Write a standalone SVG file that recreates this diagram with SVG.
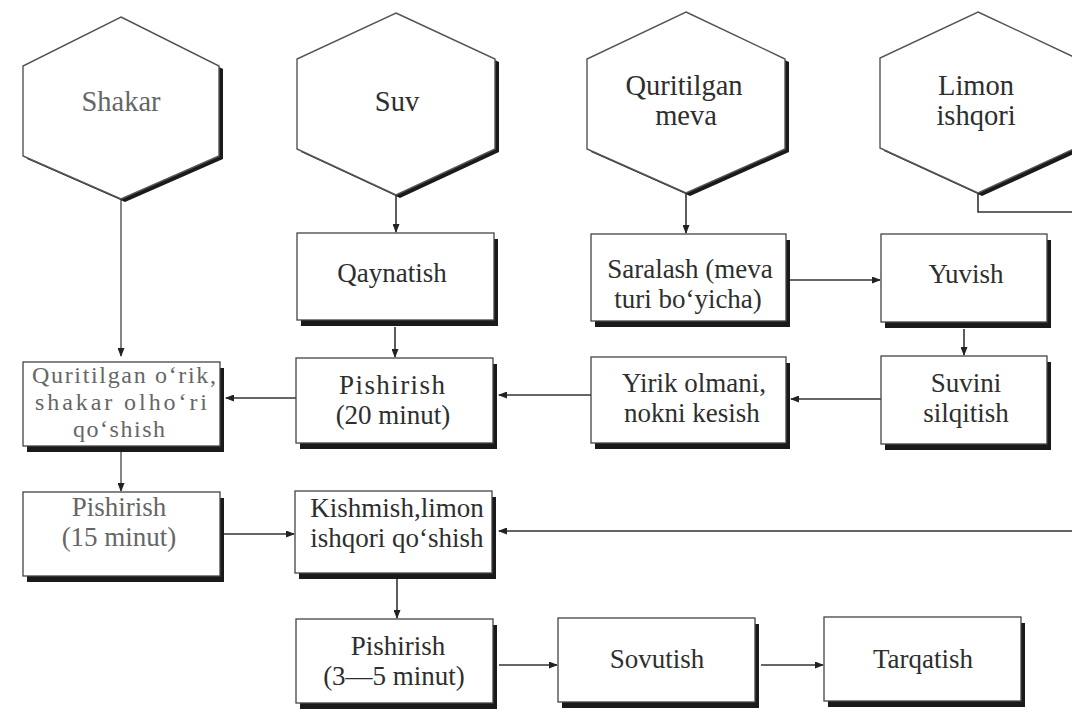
<svg xmlns="http://www.w3.org/2000/svg" width="1072" height="709" viewBox="0 0 1072 709">
<style>
.bg{fill:#ffffff}
.hex{fill:#ffffff;stroke:#555;stroke-width:1.4}
.hsh{fill:#1a1a1a}
.bx{fill:#ffffff;stroke:#444;stroke-width:1.3}
.sh{fill:#1a1a1a}
.t{font-family:"Liberation Serif","Times New Roman",serif;font-size:27px;fill:#2e2e2e;text-anchor:middle}
.th{font-size:28.5px}
.sm{font-size:24px}
.lt{fill:#666}
.c{fill:none;stroke:#333;stroke-width:1.6}
.cl{stroke:#666}
</style>
<defs>
<marker id="ah" markerUnits="userSpaceOnUse" markerWidth="9" markerHeight="7" refX="8" refY="3.5" orient="auto">
<path d="M0,0 L9,3.5 L0,7 z" fill="#222"/>
</marker>
</defs>
<rect class="bg" x="0" y="0" width="1072" height="709"/>

<g id="connectors">
<path class="c cl" d="M121,199 V356" marker-end="url(#ah)"/>
<path class="c" d="M396,195 V232" marker-end="url(#ah)"/>
<path class="c" d="M395,327 V357" marker-end="url(#ah)"/>
<path class="c" d="M296,398 H226" marker-end="url(#ah)"/>
<path class="c" d="M591,395 H499" marker-end="url(#ah)"/>
<path class="c" d="M881,399 H791" marker-end="url(#ah)"/>
<path class="c" d="M790,280 H880" marker-end="url(#ah)"/>
<path class="c" d="M964,329 V355" marker-end="url(#ah)"/>
<path class="c" d="M686,193 V233" marker-end="url(#ah)"/>
<path class="c cl" d="M121,452 V491" marker-end="url(#ah)"/>
<path class="c" d="M224,534 H294" marker-end="url(#ah)"/>
<path class="c" d="M978,193 V212 H1080 V531 H499" marker-end="url(#ah)"/>
<path class="c" d="M397,579 V618" marker-end="url(#ah)"/>
<path class="c" d="M499,665 H557" marker-end="url(#ah)"/>
<path class="c" d="M761,665 H823" marker-end="url(#ah)"/>
</g>

<g id="hex-shakar">
<polygon class="hsh" transform="translate(4,3)" points="121,17 219,66 219,156 121,199 23,156 23,66"/>
<polygon class="hex" points="121,17 219,66 219,156 121,199 23,156 23,66"/>
<text class="t th lt" x="121" y="111">Shakar</text>
</g>
<g id="hex-suv">
<polygon class="hsh" transform="translate(4,3)" points="396,13 495,59 495,149 396,195 297,149 297,59"/>
<polygon class="hex" points="396,13 495,59 495,149 396,195 297,149 297,59"/>
<text class="t th" x="397" y="111">Suv</text>
</g>
<g id="hex-quritilgan">
<polygon class="hsh" transform="translate(4,3)" points="686,12 785,59 785,149 686,193 587,149 587,59"/>
<polygon class="hex" points="686,12 785,59 785,149 686,193 587,149 587,59"/>
<text class="t th" x="684" y="95">Quritilgan</text>
<text class="t th" x="686" y="125">meva</text>
</g>
<g id="hex-limon">
<polygon class="hsh" transform="translate(4,3)" points="978,12 1076,58 1076,148 978,193 880,148 880,58"/>
<polygon class="hex" points="978,12 1076,58 1076,148 978,193 880,148 880,58"/>
<text class="t th" x="976" y="95">Limon</text>
<text class="t th" x="976" y="125">ishqori</text>
</g>

<g id="qaynatish">
<rect class="sh" x="301" y="239" width="197" height="87"/>
<rect class="bx" x="297" y="233" width="197" height="87"/>
<text class="t" x="392" y="282">Qaynatish</text>
</g>
<g id="saralash">
<rect class="sh" x="595" y="240" width="195" height="87"/>
<rect class="bx" x="591" y="234" width="195" height="87"/>
<text class="t" x="690" y="278">Saralash (meva</text>
<text class="t" x="688" y="308">turi bo‘yicha)</text>
</g>
<g id="yuvish">
<rect class="sh" x="885" y="240" width="166" height="88"/>
<rect class="bx" x="881" y="234" width="166" height="88"/>
<text class="t" x="966" y="283">Yuvish</text>
</g>

<g id="quritilgan-orik">
<rect class="sh" x="27" y="368" width="197" height="84"/>
<rect class="bx" x="23" y="362" width="197" height="84"/>
<text class="t sm lt" x="124" y="383" textLength="184" lengthAdjust="spacing">Quritilgan o‘rik,</text>
<text class="t sm lt" x="121" y="410" textLength="172" lengthAdjust="spacing">shakar olho‘ri</text>
<text class="t sm lt" x="119" y="437" textLength="92" lengthAdjust="spacing">qo‘shish</text>
</g>
<g id="pishirish-20">
<rect class="sh" x="300" y="364" width="197" height="85"/>
<rect class="bx" x="296" y="358" width="197" height="85"/>
<text class="t" x="392" y="394" textLength="106" lengthAdjust="spacing">Pishirish</text>
<text class="t" x="393" y="424">(20 minut)</text>
</g>
<g id="yirik">
<rect class="sh" x="595" y="363" width="195" height="86"/>
<rect class="bx" x="591" y="357" width="195" height="86"/>
<text class="t" x="694" y="392">Yirik olmani,</text>
<text class="t" x="692" y="422">nokni kesish</text>
</g>
<g id="suvini">
<rect class="sh" x="885" y="362" width="166" height="88"/>
<rect class="bx" x="881" y="356" width="166" height="88"/>
<text class="t" x="966" y="392">Suvini</text>
<text class="t" x="966" y="422">silqitish</text>
</g>

<g id="pishirish-15">
<rect class="sh" x="27" y="498" width="197" height="84"/>
<rect class="bx" x="23" y="492" width="197" height="84"/>
<text class="t lt" x="119" y="516">Pishirish</text>
<text class="t lt" x="119" y="546">(15 minut)</text>
</g>
<g id="kishmish">
<rect class="sh" x="299" y="497" width="197" height="82"/>
<rect class="bx" x="295" y="491" width="197" height="82"/>
<text class="t" x="397" y="517">Kishmish,limon</text>
<text class="t" x="397" y="547">ishqori  qo‘shish</text>
</g>

<g id="pishirish-3-5">
<rect class="sh" x="300" y="625" width="197" height="84"/>
<rect class="bx" x="296" y="619" width="197" height="84"/>
<text class="t" x="398" y="655">Pishirish</text>
<text class="t" x="394" y="685">(3—5 minut)</text>
</g>
<g id="sovutish">
<rect class="sh" x="562" y="624" width="197" height="84"/>
<rect class="bx" x="558" y="618" width="197" height="84"/>
<text class="t" x="657" y="668">Sovutish</text>
</g>
<g id="tarqatish">
<rect class="sh" x="828" y="623" width="197" height="84"/>
<rect class="bx" x="824" y="617" width="197" height="84"/>
<text class="t" x="923" y="668">Tarqatish</text>
</g>
</svg>
